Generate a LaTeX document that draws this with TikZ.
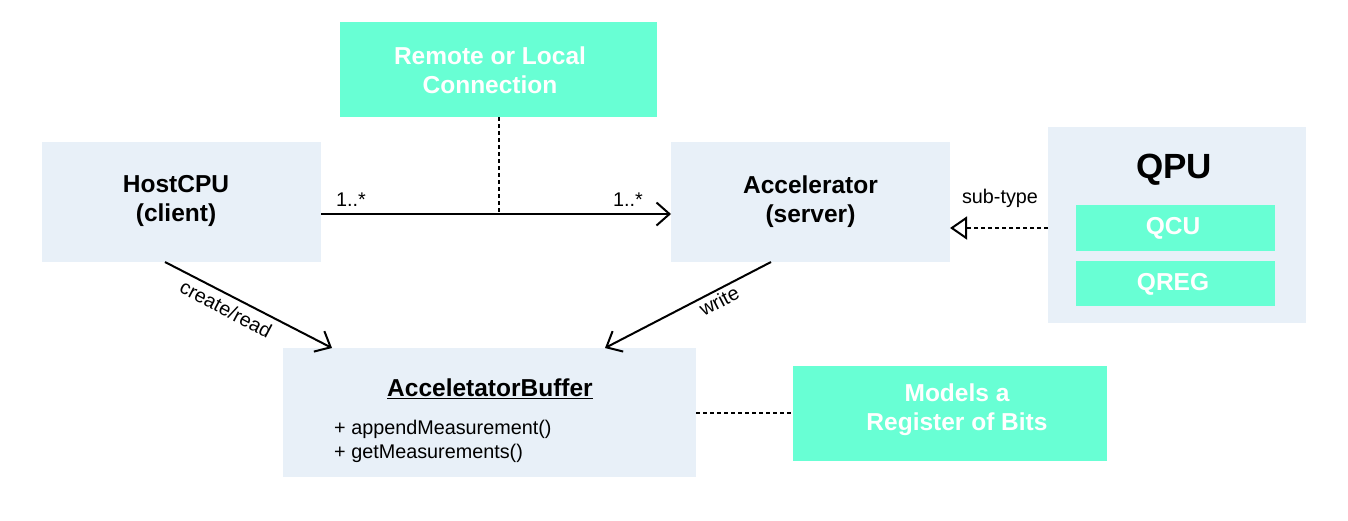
\documentclass[tikz,border=0pt]{standalone}
\usepackage{fontspec}
\setmainfont{Liberation Sans}
\usetikzlibrary{arrows.meta,calc}
\definecolor{tealbox}{RGB}{104,255,212}
\definecolor{palebox}{RGB}{232,240,248}
\begin{document}
\begin{tikzpicture}[x=1pt,y=-1pt,
  pbox/.style={fill=palebox, draw=none, inner sep=0pt, outer sep=0pt},
  tbox/.style={fill=tealbox, draw=none, inner sep=0pt, outer sep=0pt},
  big/.style={font=\fontsize{24.5}{29}\selectfont\bfseries, align=center},
  small/.style={font=\fontsize{19.8}{24}\selectfont},
  conn/.style={line width=2pt, draw=black},
  dsh/.style={line width=2pt, draw=black, dash pattern=on 4pt off 3pt},
  barb/.style={-{Straight Barb[length=13pt,width=23pt,line width=2pt]}},
  tri/.style={-{Triangle[open,length=17pt,width=23pt,line width=2pt]}}
]
\useasboundingbox (0,0) rectangle (1348,520);

% boxes
\node[tbox, minimum width=317pt, minimum height=95pt] (remote) at (498.5,69.5) {};
\node[big, text=white] (rtext) at (490,70) {Remote or Local\\Connection};
\node[pbox, minimum width=279pt, minimum height=120pt] (host) at (181.5,202) {};
\node[big] (htext) at (176,201) {HostCPU\\(client)};
\node[pbox, minimum width=279pt, minimum height=120pt, big] (accel) at (810.5,202) {Accelerator\\(server)};
\node[pbox, minimum width=258pt, minimum height=196pt] (qpu) at (1177,225) {};
\node[font=\fontsize{35}{40}\selectfont\bfseries] (qpulabel) at (1174,170) {QPU};
\node[tbox, minimum width=199pt, minimum height=46pt] (qcu) at (1175.5,228) {};
\node[big, text=white] (qcut) at (1173,228) {QCU};
\node[tbox, minimum width=199pt, minimum height=45pt] (qreg) at (1175.5,283.5) {};
\node[big, text=white] (qregt) at (1173,284) {QREG};
\node[pbox, minimum width=413pt, minimum height=129pt] (buffer) at (489.5,412.5) {};
\node[big] (btitle) at (490,389) {\underline{AcceletatorBuffer}};
\node[small, align=left, anchor=west, inner sep=0pt] (bmeth) at (334,441) {+ appendMeasurement()\\+ getMeasurements()};
\node[tbox, minimum width=314pt, minimum height=95pt] (models) at (950,413.5) {};
\node[big, text=white] (mtext) at (957,410) {Models a\\Register of Bits};

% connectors
\coordinate (hs) at ($(host.east)+(0,12)$);
\draw[conn, barb] (hs) -- ($(accel.west)+(0,12)$);
\node[small] (m1) at (351,200) {1..*};
\node[small] (m2) at (628,200) {1..*};
\draw[dsh] (remote.south) -- (remote.south |- hs);

\draw[dsh, tri] ($(qpu.west)+(0,3)$) -- ($(accel.east)+(0,26)$);
\node[small] (st) at (1000,198) {sub-type};

\draw[conn, barb] ($(host.south west)+(123,0)$) -- ($(buffer.north west)+(49,0)$);
\node[small, rotate=-27.8] (cr) at (226,309) {create/read};

\draw[conn, barb] ($(accel.south west)+(100,0)$) -- ($(buffer.north west)+(322,0)$);
\node[small, rotate=27.7] (wr) at (719,301) {write};

\draw[dsh] (buffer.east) -- (models.west |- buffer.east);
\end{tikzpicture}
\end{document}
